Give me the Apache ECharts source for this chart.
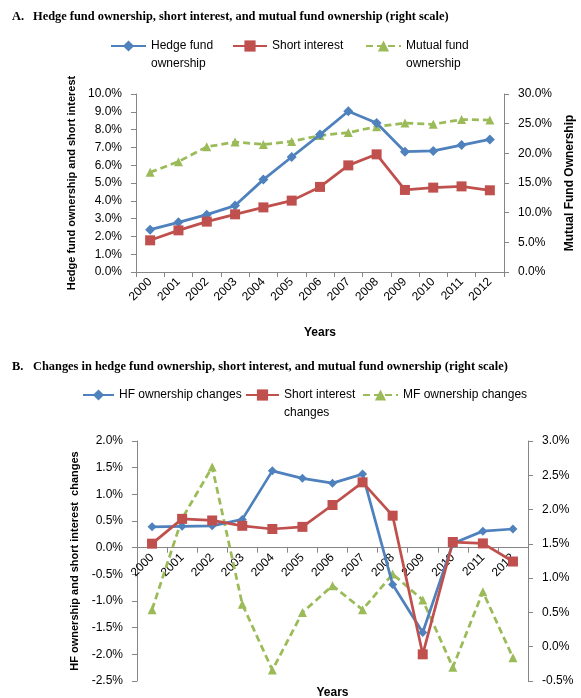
<!DOCTYPE html>
<html><head><meta charset="utf-8">
<script src="https://cdn.jsdelivr.net/npm/echarts@6/dist/echarts.min.js"></script>
<style>html,body{margin:0;padding:0;background:#fff}#c{width:581px;height:698px}</style>
</head><body><div id="c"></div>
<script>
var years = ['2000','2001','2002','2003','2004','2005','2006','2007','2008','2009','2010','2011','2012'];
// Panel A (percent)
var hfOwnership = [2.38, 2.79, 3.22, 3.73, 5.19, 6.46, 7.72, 9.03, 8.37, 6.76, 6.80, 7.13, 7.45];
var shortInterest = [1.78, 2.34, 2.83, 3.24, 3.63, 4.01, 4.78, 5.99, 6.61, 4.61, 4.74, 4.81, 4.59];
var mfOwnership = [16.8, 18.6, 21.1, 21.9, 21.5, 22.0, 23.0, 23.5, 24.5, 25.1, 24.9, 25.7, 25.6];
// Panel B (percent)
var hfChanges = [0.39, 0.40, 0.41, 0.53, 1.44, 1.30, 1.21, 1.38, -0.69, -1.59, 0.08, 0.31, 0.35];
var siChanges = [0.075, 0.54, 0.51, 0.41, 0.35, 0.39, 0.80, 1.225, 0.60, -2.0, 0.106, 0.08, -0.26];
var mfChanges = [0.54, 1.87, 2.62, 0.62, -0.34, 0.50, 0.89, 0.54, 1.06, 0.68, -0.30, 0.80, -0.16];
// axis tick settings
var axisA_left = {min: 0, max: 10, interval: 1};
var axisA_right = {min: 0, max: 30, interval: 5};
var axisB_left = {min: -2.5, max: 2.0, interval: 0.5};
var axisB_right = {min: -0.5, max: 3.0, interval: 0.5};
var titleA = ['A.', 'Hedge fund ownership, short interest, and mutual fund ownership (right scale)'];
var titleB = ['B.', 'Changes in hedge fund ownership, short interest, and mutual fund ownership (right scale)'];

var BLUE = '#4F81BD', RED = '#C0504D', GREEN = '#9BBB59', AX = '#868686';
var FONT = 'Liberation Sans';
var pct = function (v) { return v.toFixed(1) + '%'; };

var gridB = {left: 137, right: 53, top: 441, height: 240};
// move panel B's category axis up to the zero line of its left axis
var offsetB = -gridB.height * (0 - axisB_left.min) / (axisB_left.max - axisB_left.min);

function yAx(gridIndex, cfg, pos, name, nameGap, nameSize) {
  return {
    type: 'value', gridIndex: gridIndex, position: pos, min: cfg.min, max: cfg.max, interval: cfg.interval,
    name: name || '', nameLocation: 'middle', nameGap: nameGap || 0, nameRotate: 90,
    nameTextStyle: {fontFamily: FONT, fontSize: nameSize || 12, fontWeight: 'bold', color: '#000'},
    splitLine: {show: false},
    axisLine: {show: true, onZero: false, lineStyle: {color: AX, width: 1}},
    axisTick: {show: true, inside: false, length: 5, lineStyle: {color: AX}},
    axisLabel: {formatter: pct, margin: 14, fontFamily: FONT, fontSize: 12, color: '#000'}
  };
}
function xAx(gridIndex, nameGap, offset) {
  return {
    type: 'category', gridIndex: gridIndex, data: years, boundaryGap: true, offset: offset,
    name: 'Years', nameLocation: 'middle', nameGap: nameGap,
    nameTextStyle: {fontFamily: FONT, fontSize: 12, fontWeight: 'bold', color: '#000'},
    axisLine: {show: true, onZero: false, lineStyle: {color: AX, width: 1}},
    axisTick: {show: true, inside: false, length: 5, alignWithLabel: false, lineStyle: {color: AX}},
    axisLabel: {rotate: 45, margin: 8, interval: 0, fontFamily: FONT, fontSize: 12, color: '#000'},
    splitLine: {show: false}
  };
}
function ser(name, data, xi, yi, color, symbol, size, dashed) {
  return {
    name: name, type: 'line', data: data, xAxisIndex: xi, yAxisIndex: yi,
    symbol: symbol, symbolSize: size, showSymbol: true,
    lineStyle: {color: color, width: 2.75, type: dashed ? [7, 4] : 'solid'},
    itemStyle: {color: color, borderWidth: 0},
    emphasis: {disabled: true}, animation: false, z: dashed ? 1 : 2
  };
}
var legendText = {
  'Hedge fund ownership': ['Hedge fund', 'ownership'],
  'Short interest': ['Short interest'],
  'Mutual fund ownership': ['Mutual fund', 'ownership'],
  'HF ownership changes': ['HF ownership changes'],
  'Short interest changes': ['Short interest', 'changes'],
  'MF ownership changes': ['MF ownership changes']
};
function leg(name, left, rowY, w) {
  var lines = legendText[name];
  var two = lines.length > 1;
  return {
    data: [{name: name}], left: left, top: two ? rowY - 27 : rowY - 9, padding: 0,
    itemWidth: w, itemHeight: 14, selectedMode: false,
    formatter: function (n) { var l = legendText[n]; return l.length > 1 ? '\n' + l.join('\n') : l[0]; },
    textStyle: {fontFamily: FONT, fontSize: 12, color: '#000', lineHeight: 18}
  };
}
var titleStyle = {fontFamily: 'Liberation Serif', fontSize: 12.4, fontWeight: 'bold', color: '#000'};

var chart = echarts.init(document.getElementById('c'), null, {renderer: 'canvas'});
chart.setOption({
  animation: false,
  backgroundColor: '#fff',
  textStyle: {fontFamily: FONT},
  title: [
    {text: titleA[0], left: 12, top: 11, padding: 0, textStyle: titleStyle},
    {text: titleA[1], left: 33, top: 11, padding: 0, textStyle: titleStyle},
    {text: titleB[0], left: 12, top: 361, padding: 0, textStyle: titleStyle},
    {text: titleB[1], left: 33, top: 361, padding: 0, textStyle: titleStyle}
  ],
  legend: [
    leg('Hedge fund ownership', 110, 46, 35),
    leg('Short interest', 232, 46, 34),
    leg('Mutual fund ownership', 365, 46, 35),
    leg('HF ownership changes', 82, 395, 31),
    leg('Short interest changes', 245, 395, 33),
    leg('MF ownership changes', 362, 395, 35)
  ],
  grid: [
    {left: 136, right: 77, top: 94, height: 178, outerBoundsMode: 'none', containLabel: false},
    {left: gridB.left, right: gridB.right, top: gridB.top, height: gridB.height, outerBoundsMode: 'none', containLabel: false}
  ],
  xAxis: [xAx(0, 55, 0), xAx(1, 139, offsetB)],
  yAxis: [
    yAx(0, axisA_left, 'left', 'Hedge fund ownership and short interest', 49, 11),
    yAx(0, axisA_right, 'right', 'Mutual Fund Ownership', 60, 12),
    yAx(1, axisB_left, 'left', 'HF ownership and short interest  changes', 46, 11),
    yAx(1, axisB_right, 'right', '', 0)
  ],
  series: [
    ser('Hedge fund ownership', hfOwnership, 0, 0, BLUE, 'diamond', 10, false),
    ser('Short interest', shortInterest, 0, 0, RED, 'rect', 10, false),
    ser('Mutual fund ownership', mfOwnership, 0, 1, GREEN, 'triangle', 9, true),
    ser('HF ownership changes', hfChanges, 1, 2, BLUE, 'diamond', 9, false),
    ser('Short interest changes', siChanges, 1, 2, RED, 'rect', 10, false),
    ser('MF ownership changes', mfChanges, 1, 3, GREEN, 'triangle', 9, true)
  ]
});
</script>
</body></html>
